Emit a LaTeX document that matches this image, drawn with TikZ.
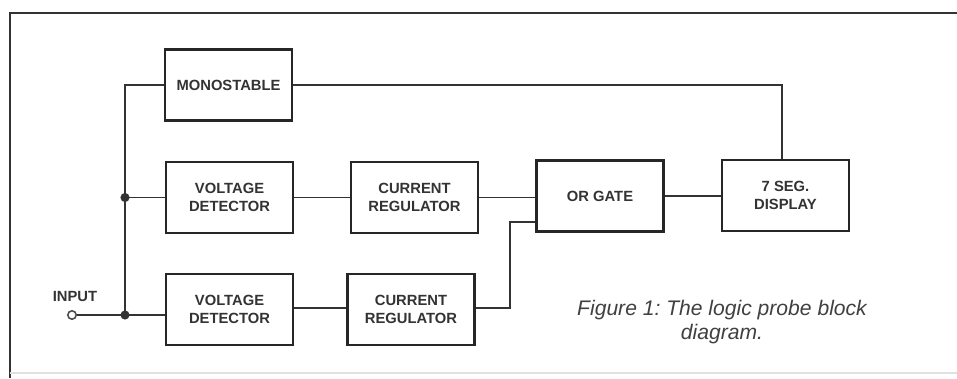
\documentclass[tikz,border=0pt]{standalone}
\usepackage{fontspec}
\setmainfont{Liberation Sans}
\usetikzlibrary{positioning}
\frenchspacing

\tikzset{
  blk/.style={draw=black!85, line width=1.7pt, fill=white, minimum width=3.175cm,
    minimum height=1.775cm, inner sep=0pt, align=center,
    font=\fontsize{10.5}{12.8}\selectfont\bfseries, text=black!80},
  wire/.style={draw=black!80, line width=1.4pt},
  dot/.style={circle, fill=black!80, inner sep=0pt, minimum size=6.5pt},
  term/.style={circle, draw=black!70, line width=1.1pt, fill=white, inner sep=0pt, minimum size=6pt},
  lbl/.style={font=\fontsize{10.5}{12}\selectfont\bfseries, text=black!80},
}

\begin{document}
\begin{tikzpicture}[x=0.025cm, y=-0.025cm]
    \useasboundingbox (0,0) rectangle (957,378);

    % Page frame
    \draw[black!80, line width=1.2pt] (10,378) -- (10,13) -- (957,13);
    \draw[black!12, line width=0.8pt] (10,373) -- (957,373);

    % Blocks
    \node[blk] (mono) at (228.5,85)  {MONOSTABLE};
    \node[blk] (vdA)  at (229.5,197.5) {VOLTAGE\\DETECTOR};
    \node[blk] (crA)  at (414.5,197.5) {CURRENT\\REGULATOR};
    \node[blk] (vdB)  at (229.5,309.5) {VOLTAGE\\DETECTOR};
    \node[blk] (crB)  at (411,309.5)   {CURRENT\\REGULATOR};
    \node[blk] (orgate) at (600,196)   {OR GATE};
    \node[blk] (seg)  at (785.5,195.5) {7 SEG.\\DISPLAY};

    % Input terminal and bus
    \node[term] (in) at (72,315) {};
    \node[lbl] (inlbl) at (75,296) {INPUT};
    \coordinate (jA) at (125,197.5);
    \coordinate (jB) at (125,315);
    \coordinate (k) at (510,222);

    \draw[wire] (mono.west) -| (jB);
    \draw[wire] (in) -- (jB) -- (jB -| vdB.west);
    \draw[wire] (jA) -- (vdA.west);
    \node[dot] at (jA) {};
    \node[dot] at (jB) {};

    % Signal path
    \draw[wire] (vdA) -- (crA);
    \draw[wire] ([yshift=0.03cm]vdB.east) -- ([yshift=0.03cm]vdB.east -| crB.west);
    \draw[wire] (crA.east) -- (crA.east -| orgate.west);
    \draw[wire] ([yshift=0.03cm]crB.east) -| (k) -- (k -| orgate.west);
    \draw[wire] (orgate.east) -- (orgate.east -| seg.west);
    \draw[wire] (mono.east) -| ([xshift=-0.09cm]seg.north);

    % Caption
    \node[align=center, text=black!75, font=\fontsize{15}{17}\selectfont\itshape]
        (cap) at (722,322) {Figure 1: The logic probe block\\diagram.};
\end{tikzpicture}
\end{document}
